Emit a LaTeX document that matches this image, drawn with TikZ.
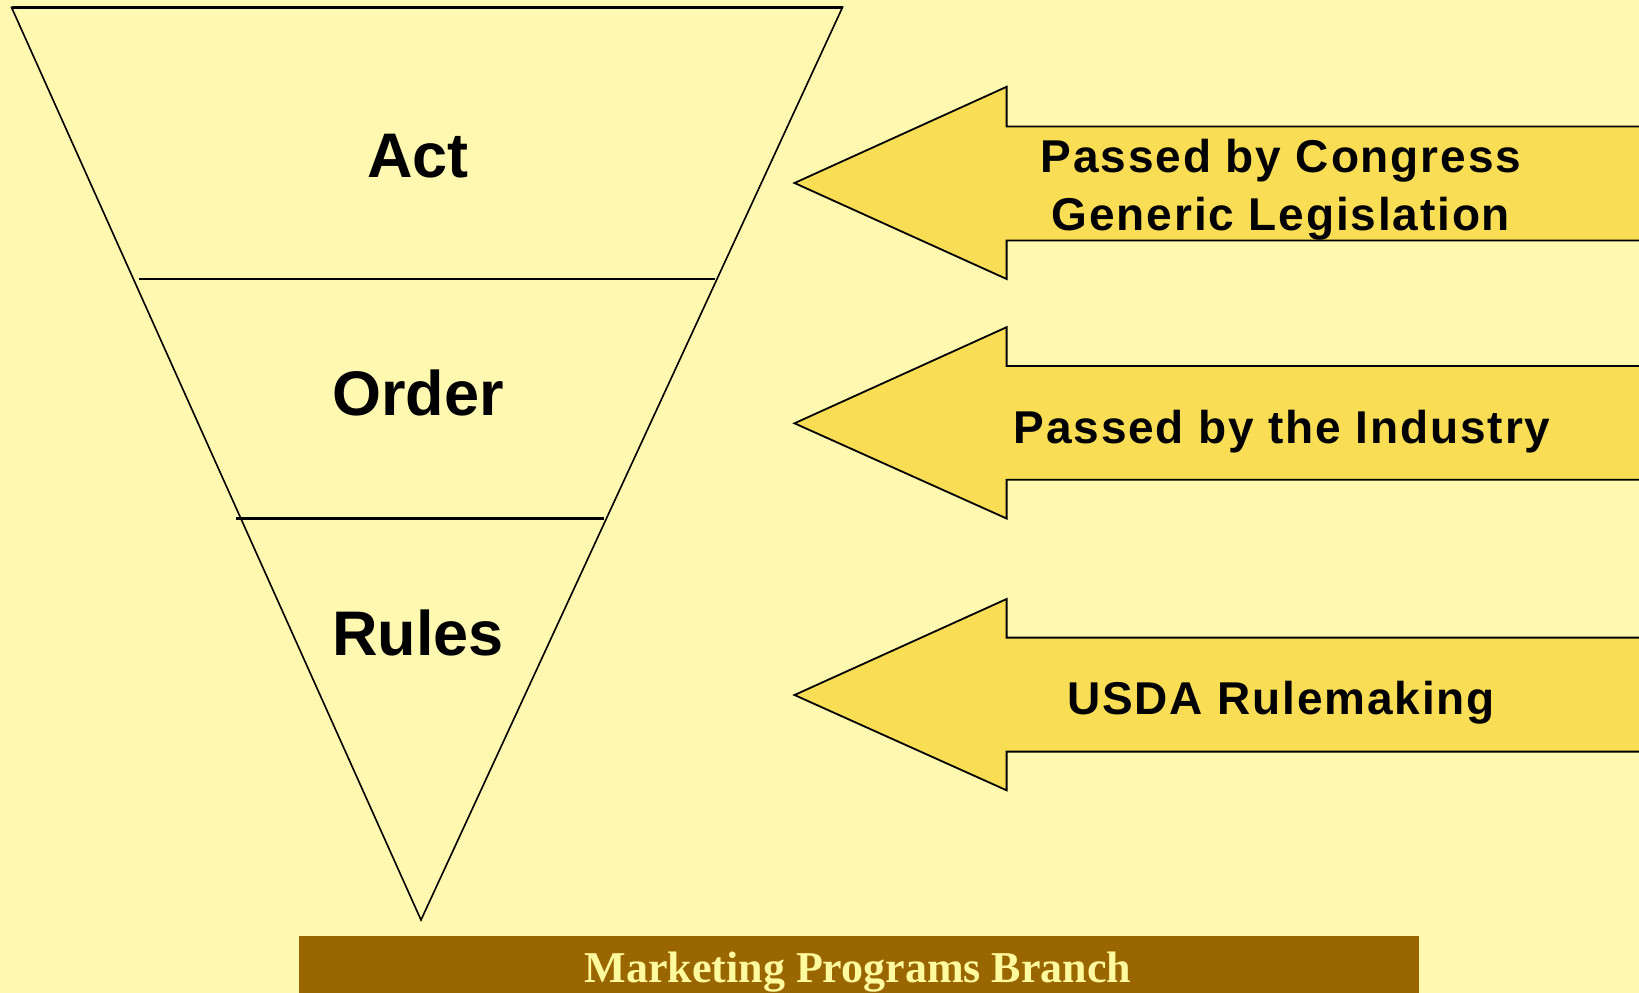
\documentclass[tikz,border=0pt]{standalone}
\usepackage{fontspec}
\setmainfont{Liberation Sans}
\newfontfamily\spacedfont[LetterSpace=4]{Liberation Sans}
\newfontfamily\bannerfont{Liberation Serif}
\definecolor{bg}{HTML}{FFF8B0}
\definecolor{arrowfill}{HTML}{F9DE55}
\definecolor{bannerbrown}{HTML}{996600}
\definecolor{bannertext}{HTML}{FFFA9E}
\begin{document}
\begin{tikzpicture}[x=1pt,y=-1pt,
  levellabel/.style={font=\bfseries\fontsize{63}{63}\selectfont, anchor=base, inner sep=0pt},
  arrowtext/.style={font=\spacedfont\bfseries\fontsize{46}{50}\selectfont, anchor=base, inner sep=0pt},
  bigarrow/.style={draw=black, line width=1.8pt, fill=arrowfill, line join=miter},
  divider/.style={draw=black, line width=2.8pt}]
\useasboundingbox (0,0) rectangle (1639,993);
\clip (0,0) rectangle (1639,993);
\fill[bg] (0,0) rectangle (1639,993);
% funnel
\coordinate (tl) at (11.5,7.3);
\coordinate (tr) at (842.5,7.3);
\coordinate (tip) at (421,920);
\draw[line width=1.6pt, line join=miter] (tl) -- (tr) -- (tip) -- cycle;
\draw[line width=2.6pt] (tl) -- (tr);
\coordinate (d1l) at (139,279);
\coordinate (d1r) at (715,279);
\coordinate (d2l) at (236,518.5);
\coordinate (d2r) at (604,518.5);
\draw[divider] (d1l) -- (d1r);
\draw[divider] (d2l) -- (d2r);
\node[levellabel] (act) at (418,177) {Act};
\node[levellabel] (order) at (418,415) {Order};
\node[levellabel] (rules) at (418,655) {Rules};
% arrows
\draw[bigarrow] (794.5,183) -- (1006.6,86.8) -- (1006.6,126.5) -- (1650,126.5) -- (1650,240.4) -- (1006.6,240.4) -- (1006.6,279) -- cycle;
\draw[bigarrow] (794.5,423.3) -- (1006.6,327.2) -- (1006.6,365.9) -- (1650,365.9) -- (1650,479.8) -- (1006.6,479.8) -- (1006.6,518.5) -- cycle;
\draw[bigarrow] (794.5,695) -- (1006.6,599) -- (1006.6,637.6) -- (1650,637.6) -- (1650,751.6) -- (1006.6,751.6) -- (1006.6,790.3) -- cycle;
\node[arrowtext] (t1a) at (1281,172) {Passed by Congress};
\node[arrowtext] (t1b) at (1281,230) {Generic Legislation};
\node[arrowtext] (t2) at (1282,443) {Passed by the Industry};
\node[arrowtext] (t3) at (1281,714) {USDA Rulemaking};
% banner
\fill[bannerbrown] (299,935.5) rectangle (1418.5,1000);
\node[font=\bannerfont\bfseries\fontsize{44}{44}\selectfont, text=bannertext, anchor=base, inner sep=0pt] (banner) at (858,982) {Marketing Programs Branch};
\end{tikzpicture}
\end{document}
